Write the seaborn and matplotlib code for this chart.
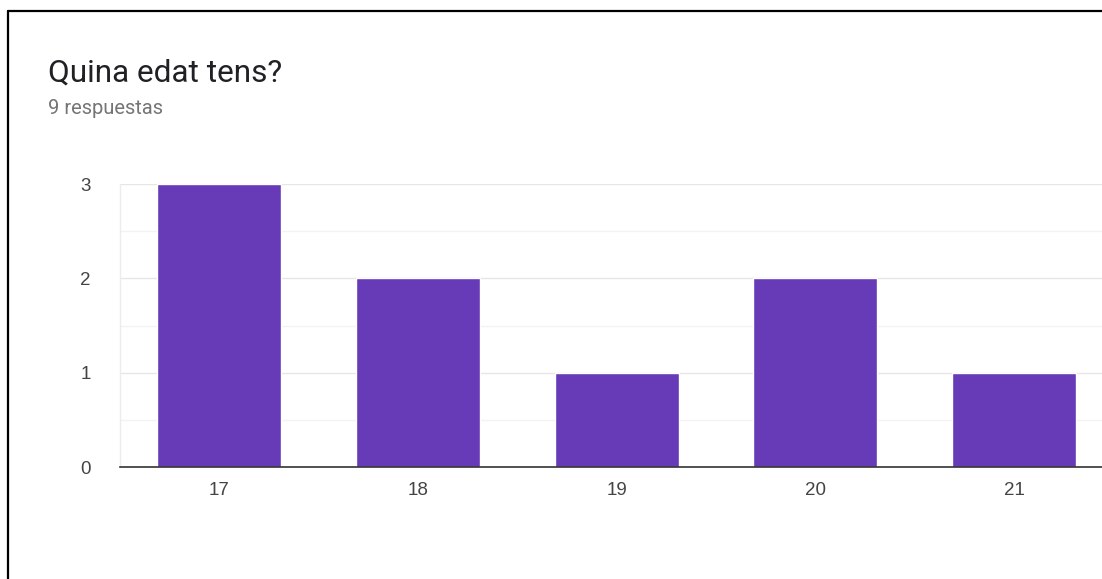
import matplotlib
matplotlib.use("Agg")
import matplotlib.pyplot as plt
import seaborn as sns
import pandas as pd
from matplotlib.lines import Line2D

ages = ["17", "18", "19", "20", "21"]
counts = [3, 2, 1, 2, 1]
title = "Quina edat tens?"
subtitle = "9 respuestas"

sns.set_theme(style="white")
plt.rcParams['font.family'] = ['Roboto', 'DejaVu Sans']

df = pd.DataFrame({"age": ages, "count": counts})

fig = plt.figure(figsize=(11.02, 5.79), dpi=100)
ax = fig.add_axes([120/1102, 1-467/579, 993.5/1102, (467-184)/579])

sns.barplot(data=df, x="age", y="count", color="#673ab7", saturation=1,
            width=0.624, ax=ax, zorder=3)

ax.set_xlim(-0.5, 4.5)
ax.set_ylim(0, 3)
ax.set_yticks([0, 1, 2, 3])
ax.set_yticks([0.5, 1.5, 2.5], minor=True)
ax.grid(axis="y", which="major", color="#e6e6e6", linewidth=1, zorder=0)
ax.grid(axis="y", which="minor", color="#f3f3f3", linewidth=1, zorder=0)
ax.set_axisbelow(True)
for s in ["top", "right"]:
    ax.spines[s].set_visible(False)
ax.spines["left"].set_color("#ececec")
ax.spines["left"].set_linewidth(1)
ax.spines["bottom"].set_color("#333333")
ax.spines["bottom"].set_linewidth(1.2)
ax.spines["bottom"].set_zorder(4)
ax.set_xlabel("")
ax.set_ylabel("")
ax.tick_params(axis="y", which="both", length=0, pad=21, labelsize=13.5, labelcolor="#444444")
ax.tick_params(axis="x", length=0, pad=11, labelsize=13.5, labelcolor="#444444")
for lab in ax.get_xticklabels() + ax.get_yticklabels():
    lab.set_family(["Liberation Sans", "DejaVu Sans"])

fig.text(48/1102, 1-73/579, title, fontsize=22.7, color="#202124", va="center", ha="left")
fig.text(48/1102, 1-108/579, subtitle, fontsize=14.5, color="#757575", va="center", ha="left")

# frame lines
fig.add_artist(Line2D([8/1102, 1.0], [1-11/579, 1-11/579], color="black", linewidth=1.6, transform=fig.transFigure))
fig.add_artist(Line2D([8/1102, 8/1102], [0.0, 1-11/579], color="black", linewidth=1.6, transform=fig.transFigure))

fig.savefig("out.png", dpi=100, facecolor="white")
